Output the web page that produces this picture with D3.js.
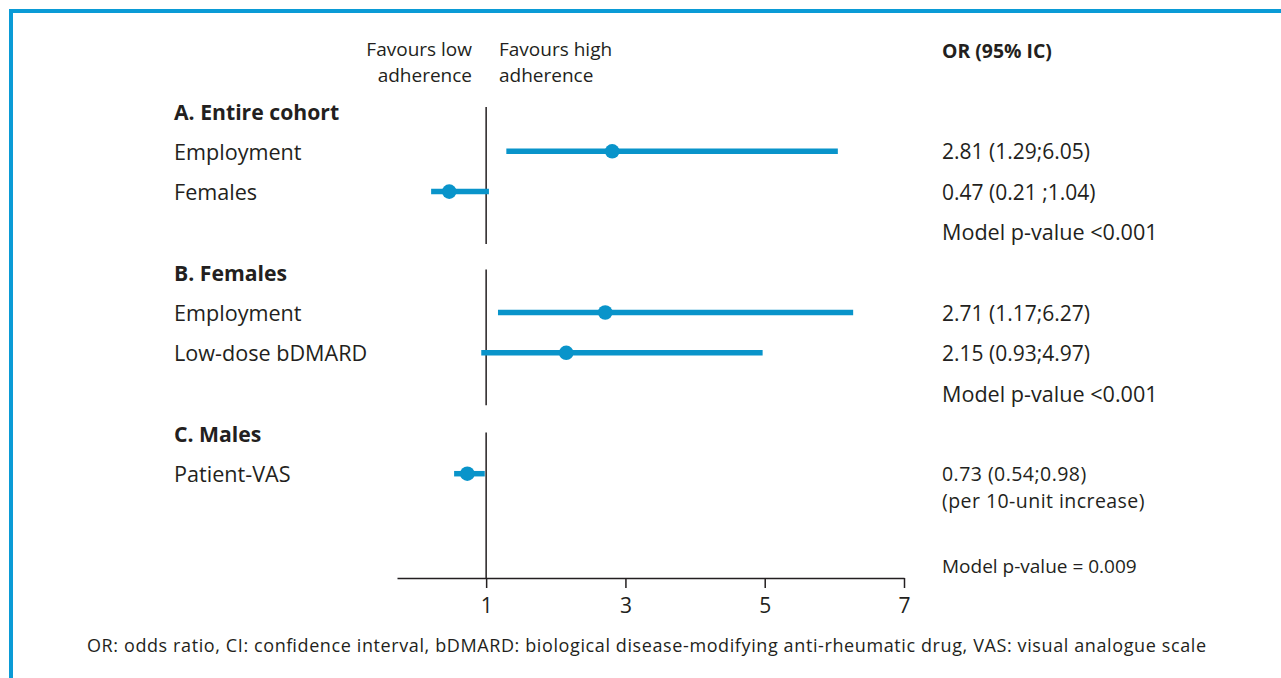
<!DOCTYPE html>
<html>
<head>
<meta charset="utf-8">
<script src="https://cdn.jsdelivr.net/npm/d3@7"></script>
<style>
  html, body { margin: 0; padding: 0; background: #fff; }
  svg { display: block; font-family: "Open Sans", "Noto Sans", sans-serif; }
  text { fill: #231f20; }
</style>
</head>
<body>
<div id="chart"></div>
<script>
const groups = ["A. Entire cohort", "B. Females", "C. Males"]
const modelP = ["Model p-value <0.001", "Model p-value <0.001", "Model p-value = 0.009"]
const variables = ["Employment", "Females", "Employment", "Low-dose bDMARD", "Patient-VAS"]
const variableGroup = [0, 0, 1, 1, 2]
const oddsRatio = [2.81, 0.47, 2.71, 2.15, 0.73]
const lower = [1.29, 0.21, 1.17, 0.93, 0.54]
const upper = [6.05, 1.04, 6.27, 4.97, 0.98]
const lowerLabel = ["1.29", "0.21 ", "1.17", "0.93", "0.54"]
const notes = ["", "", "", "", "(per 10-unit increase)"]
const favoursLow = ["Favours low", "adherence"]
const favoursHigh = ["Favours high", "adherence"]
const xTicks = [1, 3, 5, 7]
const footnote = "OR: odds ratio, CI: confidence interval, bDMARD: biological disease-modifying anti-rheumatic drug, VAS: visual analogue scale"

const width = 1281, height = 678
const blue = "#0994ca"
const ink = "#231f20"

const svg = d3.select("#chart").append("svg")
  .attr("width", width)
  .attr("height", height)
  .attr("viewBox", [0, 0, width, height])

// frame (top and left edges)
svg.append("path")
  .attr("d", `M11,${height} V11 H${width}`)
  .attr("fill", "none")
  .attr("stroke", "#0a9bd6")
  .attr("stroke-width", 4)

const x = d3.scaleLinear().domain([-0.28, 7]).range([397, 904])
// row slots: each group has header, items, model line
const y = d3.scaleLinear().domain([0, 9]).range([111, 473.7])

const groupSlot = [0, 4, 8]
const rowSlot = variables.map((v, i) => groupSlot[variableGroup[i]] + 1 + variableGroup.slice(0, i).filter(g => g === variableGroup[i]).length)
const modelSlot = [3, 7, 11.3]

const fmt = d3.format(".2f")
const rightX = 942

// "favours" headers
const head = svg.append("g").attr("font-size", 19).attr("dominant-baseline", "central")
head.selectAll(".low").data(favoursLow).join("text")
  .attr("class", "low")
  .attr("x", 472).attr("y", (d, i) => 49 + i * 26)
  .attr("text-anchor", "end")
  .text(d => d)
head.selectAll(".high").data(favoursHigh).join("text")
  .attr("class", "high")
  .attr("x", 499).attr("y", (d, i) => 49 + i * 26)
  .text(d => d)

svg.append("text").attr("x", rightX).attr("y", 50).attr("font-size", 19.4).attr("font-weight", 700)
  .attr("dominant-baseline", "central").text("OR (95% IC)")

// reference line at OR = 1, broken per group
const refSpans = [[-0.1, 3.3], [3.93, 7.3], [7.98, null]]
const axisY = 578
svg.append("g").selectAll("line").data(refSpans).join("line")
  .attr("x1", x(1)).attr("x2", x(1))
  .attr("y1", d => y(d[0]))
  .attr("y2", d => d[1] === null ? axisY : y(d[1]))
  .attr("stroke", ink).attr("stroke-width", 1.5)

// group headers
svg.append("g").selectAll("text").data(groups).join("text")
  .attr("x", 174).attr("y", (d, i) => y(groupSlot[i]))
  .attr("dominant-baseline", "central")
  .attr("font-size", 21.2).attr("font-weight", 700)
  .text(d => d)

// variable labels
svg.append("g").selectAll("text").data(variables).join("text")
  .attr("x", 174).attr("y", (d, i) => y(rowSlot[i]))
  .attr("dominant-baseline", "central")
  .attr("font-size", 21.6)
  .text(d => d)

// CI lines and points
const marks = svg.append("g")
marks.selectAll("line").data(variables).join("line")
  .attr("x1", (d, i) => x(lower[i])).attr("x2", (d, i) => x(upper[i]))
  .attr("y1", (d, i) => y(rowSlot[i])).attr("y2", (d, i) => y(rowSlot[i]))
  .attr("stroke", blue).attr("stroke-width", 5.5)
marks.selectAll("circle").data(variables).join("circle")
  .attr("cx", (d, i) => x(oddsRatio[i]))
  .attr("cy", (d, i) => y(rowSlot[i]))
  .attr("r", 7.3)
  .attr("fill", blue)

// OR text column; rows with a note use a slightly smaller size so the two lines fit
svg.append("g").selectAll("text").data(variables).join("text")
  .attr("x", rightX).attr("y", (d, i) => y(rowSlot[i]))
  .attr("dominant-baseline", "central")
  .attr("font-size", (d, i) => notes[i] ? 19.5 : 21)
  .attr("letter-spacing", (d, i) => notes[i] ? 0.45 : null)
  .text((d, i) => `${fmt(oddsRatio[i])} (${lowerLabel[i]};${fmt(upper[i])})`)
svg.append("g").selectAll("text").data(notes.filter(n => n)).join("text")
  .attr("x", rightX).attr("y", y(rowSlot[4]) + 26.5)
  .attr("dominant-baseline", "central")
  .attr("font-size", 19.5)
  .attr("letter-spacing", 0.45)
  .text(d => d)

// model p-values
svg.append("g").selectAll("text").data(modelP).join("text")
  .attr("x", rightX).attr("y", (d, i) => y(modelSlot[i]))
  .attr("dominant-baseline", "central")
  .attr("font-size", (d, i) => i === 2 ? 19 : 21.6)
  .text(d => d)

// x axis
const axis = svg.append("g")
  .attr("transform", `translate(0,${axisY})`)
  .call(d3.axisBottom(x).tickValues(xTicks).tickSize(10).tickSizeOuter(0).tickFormat(d3.format("d")))
  .attr("font-family", null)
axis.select(".domain").attr("stroke", ink).attr("stroke-width", 1.5)
axis.selectAll(".tick line").attr("stroke", ink).attr("stroke-width", 1.5)
axis.selectAll(".tick text").attr("font-size", 21).attr("y", 20).attr("fill", ink)

// footnote
svg.append("text").attr("x", 646.5).attr("y", 645)
  .attr("text-anchor", "middle").attr("dominant-baseline", "central")
  .attr("font-size", 18)
  .attr("textLength", 1119)
  .text(footnote)
</script>
</body>
</html>
